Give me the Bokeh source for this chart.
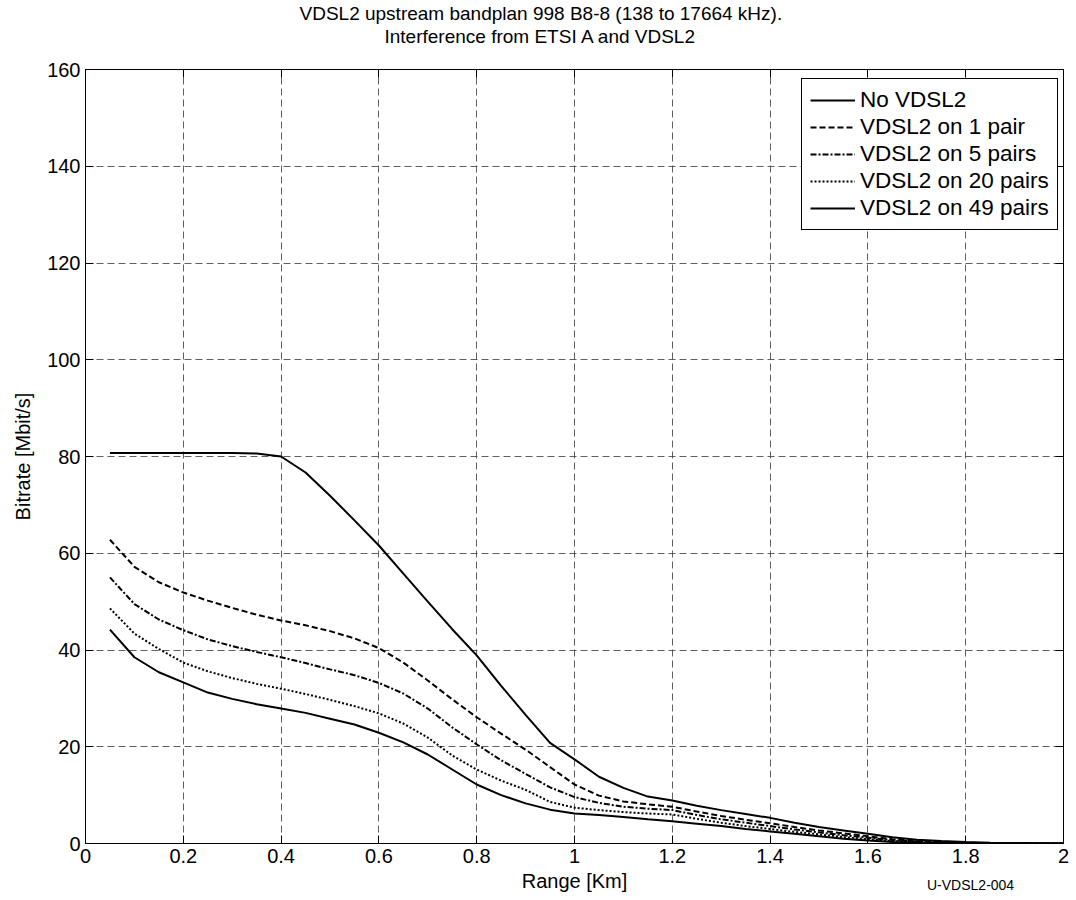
from bokeh.plotting import figure
from bokeh.models import (FixedTicker, NumeralTickFormatter, Range1d, Title,
                          LinearAxis)
from bokeh.embed import file_html
from bokeh.resources import INLINE

range_km = [0.05, 0.10, 0.15, 0.20, 0.25, 0.30, 0.35, 0.40, 0.45, 0.50,
            0.55, 0.60, 0.65, 0.70, 0.75, 0.80, 0.85, 0.90, 0.95, 1.00,
            1.05, 1.10, 1.15, 1.20, 1.25, 1.30, 1.35, 1.40, 1.45, 1.50,
            1.55, 1.60, 1.65, 1.70, 1.75, 1.80, 1.85, 1.90, 1.95, 2.00]

no_vdsl2 = [80.7, 80.7, 80.7, 80.7, 80.7, 80.7, 80.6, 80.0, 76.7, 71.9,
            66.8, 61.6, 55.8, 50.0, 44.3, 38.9, 32.6, 26.6, 20.8, 17.4,
            13.8, 11.5, 9.7, 8.9, 7.8, 6.9, 6.1, 5.3, 4.3, 3.4,
            2.7, 2.0, 1.3, 0.8, 0.5, 0.3, 0.15, 0.1, 0.05, 0.0]

vdsl2_1_pair = [62.8, 57.2, 54.0, 51.9, 50.2, 48.7, 47.3, 46.1, 45.1, 43.9,
                42.4, 40.4, 37.4, 33.7, 29.8, 26.1, 22.7, 19.4, 15.8, 12.2,
                9.9, 8.7, 8.1, 7.6, 6.6, 5.7, 4.9, 4.2, 3.4, 2.7,
                2.1, 1.5, 0.9, 0.5, 0.3, 0.15, 0.08, 0.04, 0.02, 0.0]

vdsl2_5_pairs = [55.0, 49.5, 46.3, 44.1, 42.2, 40.8, 39.6, 38.5, 37.3, 36.0,
                 34.8, 33.2, 31.0, 27.9, 24.0, 20.5, 17.2, 14.4, 11.6, 9.6,
                 8.4, 7.6, 7.2, 6.9, 5.9, 5.0, 4.3, 3.6, 2.9, 2.3,
                 1.7, 1.2, 0.7, 0.4, 0.2, 0.1, 0.05, 0.02, 0.01, 0.0]

vdsl2_20_pairs = [48.6, 43.4, 40.2, 37.4, 35.6, 34.2, 33.0, 32.0, 30.9, 29.7,
                  28.4, 26.9, 24.8, 21.9, 18.2, 15.3, 13.0, 11.1, 8.6, 7.4,
                  6.9, 6.5, 6.2, 6.0, 5.1, 4.3, 3.6, 3.0, 2.4, 1.9,
                  1.3, 0.9, 0.5, 0.3, 0.15, 0.08, 0.04, 0.02, 0.01, 0.0]

vdsl2_49_pairs = [44.2, 38.5, 35.4, 33.3, 31.2, 29.9, 28.8, 27.9, 27.0, 25.8,
                  24.6, 22.9, 20.9, 18.4, 15.3, 12.2, 10.0, 8.3, 7.0, 6.2,
                  5.9, 5.5, 5.0, 4.6, 4.1, 3.6, 3.0, 2.5, 2.0, 1.5,
                  1.0, 0.6, 0.3, 0.15, 0.08, 0.04, 0.02, 0.01, 0.0, 0.0]

series_labels = ["No VDSL2", "VDSL2 on 1 pair", "VDSL2 on 5 pairs",
                 "VDSL2 on 20 pairs", "VDSL2 on 49 pairs"]
x_ticks = [0.0, 0.2, 0.4, 0.6, 0.8, 1.0, 1.2, 1.4, 1.6, 1.8, 2.0]
y_ticks = [0, 20, 40, 60, 80, 100, 120, 140, 160]
title_lines = ["VDSL2 upstream bandplan 998 B8-8 (138 to 17664 kHz).",
               "Interference from ETSI A and VDSL2"]
figure_code = "U-VDSL2-004"
figure_code_pos = 1.81

FONT = "Liberation Sans"

p = figure(width=1070, height=898, output_backend="svg", toolbar_location=None,
           x_range=Range1d(0, 2), y_range=Range1d(0, 160),
           min_border_left=85, min_border_right=7, min_border_top=69,
           min_border_bottom=55)
p.background_fill_color = "white"
p.border_fill_color = "white"
p.outline_line_color = "black"
p.outline_line_width = 1
p.outline_line_alpha = 1

styles = ["solid", "6 3", "6 2 2 2", "2 2", "solid"]
series = [no_vdsl2, vdsl2_1_pair, vdsl2_5_pairs, vdsl2_20_pairs, vdsl2_49_pairs]
for ys, lab, dash in zip(series, series_labels, styles):
    p.line(range_km, ys, line_color="black", line_width=2, legend_label=lab,
           line_dash=dash)

# axes
p.xaxis.ticker = FixedTicker(ticks=x_ticks)
p.yaxis.ticker = FixedTicker(ticks=y_ticks)
p.xaxis.formatter = NumeralTickFormatter(format="0.[0]")
p.xaxis.axis_label = "Range [Km]"
p.yaxis.axis_label = "Bitrate [Mbit/s]"
for ax in (p.xaxis[0], p.yaxis[0]):
    ax.major_label_text_font = FONT
    ax.major_label_text_font_size = "20px"
    ax.major_label_text_color = "black"
    ax.axis_label_text_font = FONT
    ax.axis_label_text_font_size = "20px"
    ax.axis_label_text_font_style = "normal"
    ax.axis_label_text_color = "black"
    ax.axis_line_color = "black"
    ax.major_tick_line_color = "black"
    ax.major_tick_in = 8
    ax.major_tick_out = 0
    ax.minor_tick_line_color = None
    ax.major_label_standoff = 5
p.xaxis.axis_label_standoff = 4
p.yaxis.axis_label_standoff = 10

# mirrored ticks on the top and right edges (box style)
top_axis = LinearAxis(ticker=FixedTicker(ticks=x_ticks), major_label_standoff=0,
                      major_label_text_font_size="1px", major_label_text_alpha=0)
right_axis = LinearAxis(ticker=FixedTicker(ticks=y_ticks), major_label_standoff=0,
                        major_label_text_font_size="1px", major_label_text_alpha=0)
for ax in (top_axis, right_axis):
    ax.axis_line_color = "black"
    ax.major_tick_line_color = "black"
    ax.major_tick_in = 8
    ax.major_tick_out = 0
    ax.minor_tick_line_color = None
p.add_layout(top_axis, "above")
p.add_layout(right_axis, "right")

for g in (p.xgrid[0], p.ygrid[0]):
    g.grid_line_color = "#444444"
    g.grid_line_dash = "7 4"
    g.grid_line_width = 1
    g.grid_line_alpha = 0.85

# legend
lg = p.legend[0]
lg.location = (716, 613)
lg.padding = 8
lg.spacing = 1
lg.glyph_width = 45
lg.glyph_height = 26
lg.label_height = 26
lg.label_standoff = 5
lg.label_text_font = FONT
lg.label_text_font_size = "22.5px"
lg.label_text_color = "black"
lg.border_line_color = "black"
lg.border_line_width = 1
lg.border_line_alpha = 1
lg.background_fill_color = "white"
lg.background_fill_alpha = 1

# blank spacer between the frame and the two-line title
spacer = Title(text=" ", text_font=FONT, text_font_size="16px", standoff=4,
               text_color="white")
p.add_layout(spacer, "above")

# two-line title, each line centred near x = 540 px as in the reference
t2 = Title(text=title_lines[1], align="left", offset=299, standoff=0,
           text_font=FONT, text_font_size="19px", text_font_style="normal",
           text_color="black")
t1 = Title(text=title_lines[0], align="left", offset=214, standoff=0,
           text_font=FONT, text_font_size="19px", text_font_style="normal",
           text_color="black")
p.add_layout(t2, "above")
p.add_layout(t1, "above")

# figure code at bottom right, on the level of the x-axis label
code_axis = LinearAxis(ticker=FixedTicker(ticks=[figure_code_pos]),
                       major_label_overrides={figure_code_pos: figure_code})
code_axis.axis_line_color = None
code_axis.major_tick_line_color = None
code_axis.minor_tick_line_color = None
code_axis.major_label_text_font = FONT
code_axis.major_label_text_font_size = "14px"
code_axis.major_label_text_color = "black"
code_axis.major_label_standoff = -24
p.add_layout(code_axis, "below")

open("out.html", "w").write(file_html(p, INLINE))
